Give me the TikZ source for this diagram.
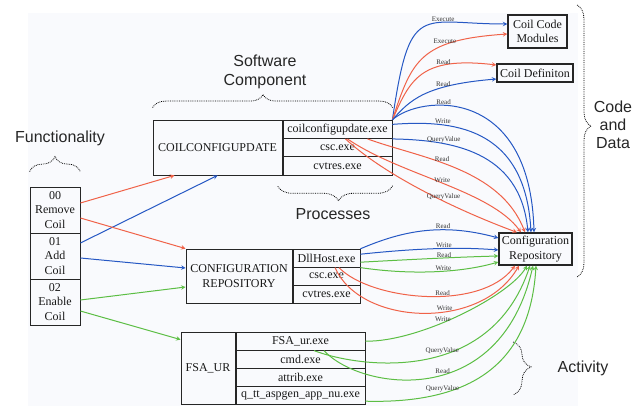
\documentclass[tikz,border=0pt]{standalone}
\usepackage{fontspec}
\setmainfont{Liberation Serif}
\setsansfont{Liberation Sans}
\usetikzlibrary{matrix,decorations.pathreplacing}

\definecolor{redline}{RGB}{240,98,72}
\definecolor{blueline}{RGB}{38,88,196}
\definecolor{greenline}{RGB}{92,190,68}
\definecolor{paper}{RGB}{249,250,253}

\begin{document}
\begin{tikzpicture}[x=1pt,y=-1pt,>=stealth,
  cell/.style={draw=black!85,line width=0.8pt,inner sep=1pt,text=black!90,
    font=\fontsize{12}{14.5}\selectfont},
  box/.style={cell,align=center},
  target/.style={box,line width=1.3pt},
  exe/.style={matrix of nodes,inner sep=0pt,row sep=-0.8pt,anchor=north west,
    nodes={cell,anchor=center}},
  note/.style={font=\sffamily\fontsize{16}{19}\selectfont,text=black!85,align=center},
  curly/.style={densely dotted,line width=0.8pt,decorate},
  redarr/.style={->,color=redline,line width=1pt},
  bluearr/.style={->,color=blueline,line width=1pt},
  greenarr/.style={->,color=greenline,line width=1pt},
  lab/.style={font=\fontsize{7}{7}\selectfont,text=black!80,inner sep=0.4pt,above}
]
  \useasboundingbox (0,0) rectangle (641,406);
  \fill[paper] (28,13) rectangle (578,406);

  % functionality
  \node[box,minimum width=50pt,minimum height=46pt] (f00) at (55,210) {00\\Remove\\Coil};
  \node[box,minimum width=50pt,minimum height=46pt] (f01) at (55,256) {01\\Add\\Coil};
  \node[box,minimum width=50pt,minimum height=46pt] (f02) at (55,302) {02\\Enable\\Coil};

  % software components and their processes
  \node[box,minimum width=129pt,minimum height=55pt] (cfu) at (217.5,147.5) {COILCONFIGUPDATE};
  \matrix [exe,nodes={minimum width=109pt,minimum height=18.33pt}] (cfuexe) at (cfu.north east) {%
  coilconfigupdate.exe\\
  csc.exe\\
  cvtres.exe\\
  };

  \node[box,minimum width=106pt,minimum height=54pt] (crp) at (239,276) {CONFIGURATION\\REPOSITORY};
  \matrix [exe,nodes={minimum width=67pt,minimum height=18pt}] (crpexe) at (crp.north east) {%
  DllHost.exe\\
  csc.exe\\
  cvtres.exe\\
  };

  \node[box,minimum width=54pt,minimum height=72pt] (fsa) at (208,368) {FSA\_UR};
  \matrix [exe,nodes={minimum width=129pt,minimum height=18pt}] (fsaexe) at (fsa.north east) {%
  FSA\_ur.exe\\
  cmd.exe\\
  attrib.exe\\
  q\_tt\_aspgen\_app\_nu.exe\\
  };

  % code and data
  \node[target,minimum width=59pt,minimum height=33pt] (ccm) at (537.5,31.5) {Coil Code\\Modules};
  \node[target,minimum width=76pt,minimum height=18pt] (cdef) at (535,73) {Coil Definiton};
  \node[target,minimum width=73pt,minimum height=32pt] (crep) at (535.5,249) {Configuration\\Repository};

  % annotations
  \node[note] (fun) at (60,138) {Functionality};
  \node[note] (swc) at (265,71.5) {Software\\Component};
  \node[note] (prc) at (333,214) {Processes};
  \node[note,font=\sffamily\fontsize{16}{18}\selectfont] (cad) at (613,125) {Code\\and\\Data};
  \node[note] (act) at (583,368) {Activity};

  \draw[curly,decoration={brace,amplitude=15pt}] ([yshift=15pt]f00.north west) -- ([yshift=15pt]f00.north east);
  \draw[curly,decoration={brace,amplitude=13pt,aspect=0.46}] ([yshift=12pt]cfu.north west) -- ([yshift=12pt]cfuexe.north east);
  \draw[curly,decoration={brace,amplitude=15pt,aspect=0.47}] ([yshift=-10pt]cfuexe.south east) -- ([shift={(-5pt,-10pt)}]cfuexe.south west);
  \draw[curly,decoration={brace,amplitude=14pt,aspect=0.445}] (577,5) -- (577,277);
  \draw[curly,decoration={brace,amplitude=18pt,aspect=0.47}] (513,342) -- (513,395);

  % functionality -> components
  \draw[redarr] ([yshift=7pt]f00.east) -- ([xshift=22pt]cfu.south west);
  \draw[bluearr] ([yshift=13pt]f01.east) -- ([xshift=65pt]cfu.south west);
  \draw[redarr] ([yshift=-8pt]f00.east) -- (crp.north west);
  \draw[bluearr] ([yshift=-2pt]f01.east) -- ([yshift=8pt]crp.west);
  \draw[greenarr] ([yshift=2pt]f02.east) -- ([yshift=-11pt]crp.west);
  \draw[greenarr] ([yshift=-9pt]f02.east) -- ([yshift=-8pt]fsa.north west);

  % coilconfigupdate.exe
  \draw[bluearr] (cfuexe-1-1.north east) .. controls (410,0) and (420,24) .. ([yshift=7.5pt]ccm.west) node[lab,pos=0.67] {Execute};
  \draw[redarr] (cfuexe-1-1.north east) .. controls (412,60) and (420,40) .. ([yshift=-2.5pt]ccm.west) node[lab,pos=0.68] {Execute};
  \draw[redarr] (cfuexe-1-1.north east) .. controls (410,80) and (420,56) .. ([yshift=8pt]cdef.west) node[lab,pos=0.7] {Read};
  \draw[bluearr] (cfuexe-1-1.north east) .. controls (410,100) and (425,85) .. ([yshift=-6pt]cdef.west) node[lab,pos=0.68] {Read};
  \draw[bluearr] (cfuexe-1-1.north east) .. controls (420,95) and (530,85) .. ([xshift=-1.5pt]crep.north) node[lab,pos=0.35] {Read};
  \draw[bluearr] ([yshift=5pt]cfuexe-1-1.east) .. controls (450,120) and (525,125) .. ([xshift=-4.5pt]crep.north) node[lab,pos=0.28] {Write};
  \draw[bluearr] (cfuexe-1-1.south east) .. controls (450,140) and (520,150) .. ([xshift=-7.5pt]crep.north) node[lab,pos=0.29] {QueryValue};
  \draw[redarr] ([xshift=30pt]cfuexe-1-1.south) .. controls (420,158) and (500,168) .. ([xshift=-10.5pt]crep.north) node[lab,pos=0.42] {Read};
  \draw[redarr] ([xshift=10pt]cfuexe-1-1.south) .. controls (400,175) and (490,190) .. ([xshift=-14.5pt]crep.north) node[lab,pos=0.5] {Write};
  \draw[redarr] ([xshift=8pt]cfuexe-1-1.south) .. controls (390,180) and (470,215) .. ([xshift=-18.5pt]crep.north) node[lab,pos=0.57] {QueryValue};

  % DllHost.exe
  \draw[bluearr] (crpexe-1-1.north east) .. controls (400,232) and (440,222) .. ([yshift=11pt]crep.west) node[lab,pos=0.65] {Read};
  \draw[bluearr] ([yshift=4pt]crpexe-1-1.east) .. controls (420,248) and (460,247) .. ([yshift=-1pt]crep.west) node[lab,pos=0.55] {Write};
  \draw[greenarr] ([yshift=-4pt]crpexe-1-1.east) .. controls (420,259) and (460,257) .. ([yshift=-7pt]crep.west) node[lab,pos=0.55] {Read};
  \draw[greenarr] (crpexe-1-1.south east) .. controls (410,275) and (460,273) .. ([yshift=-13pt]crep.west) node[lab,pos=0.57] {Write};
  \draw[redarr] ([xshift=12.5pt]crpexe-1-1.south) .. controls (370,300) and (480,312) .. ([xshift=-20.5pt]crep.south) node[lab,pos=0.58] {Read};
  \draw[redarr] ([xshift=8.5pt]crpexe-1-1.south) .. controls (360,325) and (480,332) .. ([xshift=-16.5pt]crep.south) node[lab,pos=0.6] {Write};

  % FSA_UR processes
  \draw[greenarr] (fsaexe-1-1.east) .. controls (420,342) and (510,295) .. ([xshift=-8.5pt]crep.south) node[lab,pos=0.41] {Write};
  \draw[greenarr] ([xshift=13.5pt]fsaexe-1-1.south) .. controls (360,368) and (490,385) .. ([xshift=-5.5pt]crep.south) node[lab,pos=0.57] {QueryValue};
  \draw[greenarr] ([xshift=23.5pt]fsaexe-1-1.south) .. controls (360,390) and (500,412) .. ([xshift=-2.5pt]crep.south) node[lab,pos=0.55] {Read};
  \draw[greenarr] ([yshift=-6pt]fsaexe-4-1.east) .. controls (470,404) and (530,365) .. ([xshift=0.5pt]crep.south) node[lab,pos=0.28] {QueryValue};
\end{tikzpicture}
\end{document}
